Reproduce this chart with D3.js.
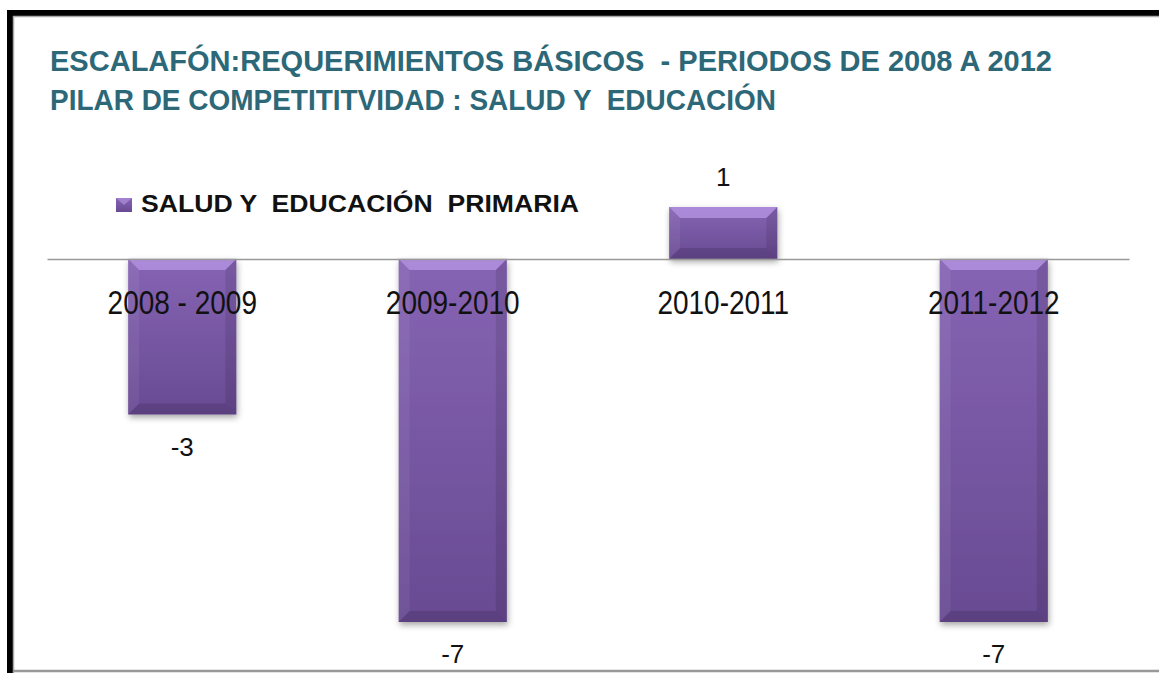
<!DOCTYPE html>
<html><head><meta charset="utf-8">
<script src="https://cdn.jsdelivr.net/npm/d3@7"></script>
<style>html,body{margin:0;padding:0;background:#fff;}svg{display:block;} text{white-space:pre;}</style>
</head><body>
<svg id="c" width="1159" height="673"></svg>
<script>
const categories = ["2008 - 2009", "2009-2010", "2010-2011", "2011-2012"];
const values = [-3, -7, 1, -7];
const seriesName = "SALUD Y  EDUCACIÓN  PRIMARIA";
const titleLines = ["ESCALAFÓN:REQUERIMIENTOS BÁSICOS  - PERIODOS DE 2008 A 2012",
                    "PILAR DE COMPETITITVIDAD : SALUD Y  EDUCACIÓN"];

const W = 1159, H = 673;
const FONT = "Liberation Sans, Arial, sans-serif";
const svg = d3.select("#c");
const defs = svg.append("defs");

const grad = defs.append("linearGradient").attr("id","barGrad").attr("x1",0).attr("y1",0).attr("x2",0).attr("y2",1);
grad.append("stop").attr("offset","0%").attr("stop-color","#8664b4");
grad.append("stop").attr("offset","100%").attr("stop-color","#684a92");

const sh = defs.append("filter").attr("id","shadow").attr("x","-20%").attr("y","-20%").attr("width","140%").attr("height","140%");
sh.append("feDropShadow").attr("dx",1).attr("dy",3).attr("stdDeviation",3).attr("flood-color","#000").attr("flood-opacity",0.35);

// frame
svg.append("line").attr("x1",10).attr("x2",10).attr("y1",10).attr("y2",H).attr("stroke","#000").attr("stroke-width",6);
svg.append("line").attr("x1",7).attr("x2",W).attr("y1",13).attr("y2",13).attr("stroke","#000").attr("stroke-width",6);
svg.append("line").attr("x1",13.5).attr("x2",13.5).attr("y1",16).attr("y2",H).attr("stroke","#aaa").attr("stroke-width",1.5);
svg.append("line").attr("x1",13).attr("x2",W).attr("y1",16.5).attr("y2",16.5).attr("stroke","#aaa").attr("stroke-width",1.5);
svg.append("line").attr("x1",13).attr("x2",W).attr("y1",671).attr("y2",671).attr("stroke","#999").attr("stroke-width",2.5);

// title
const tl = [[50, 71, 1002], [50, 110, 726]];
titleLines.forEach((t,i)=>{
  svg.append("text").attr("x",tl[i][0]).attr("y",tl[i][1])
    .attr("textLength",tl[i][2]).attr("lengthAdjust","spacingAndGlyphs")
    .attr("font-family",FONT).attr("font-weight","bold")
    .attr("font-size",29).attr("fill","#2c6878").text(t);
});

// legend
const lg = svg.append("g");
lg.append("rect").attr("x",116).attr("y",198).attr("width",16).attr("height",14).attr("fill","url(#barGrad)");
lg.append("path").attr("d","M116,198 L132,198 L124,205 Z").attr("fill","#a98ad6").attr("opacity",0.8);
lg.append("text").attr("x",141).attr("y",212).attr("textLength",438).attr("lengthAdjust","spacingAndGlyphs")
  .attr("font-family",FONT).attr("font-weight","bold")
  .attr("font-size",24).attr("fill","#111").text(seriesName);

// scales
const x = d3.scaleBand().domain(categories).range([47,1129]).paddingInner(0.6).paddingOuter(0.3);
const y = d3.scaleLinear().domain([-7,1]).range([622,207]);
const data = categories.map((c,i)=>({c, v: values[i]}));

// bars
const bw = x.bandwidth(), b = 11;
const bars = svg.append("g").selectAll("g").data(data).join("g");
bars.append("rect")
  .attr("x",d=>x(d.c)).attr("y",d=>Math.min(y(d.v),y(0)))
  .attr("width",bw).attr("height",d=>Math.abs(y(d.v)-y(0)))
  .attr("fill","url(#barGrad)").attr("filter","url(#shadow)");
bars.each(function(d){
  const g = d3.select(this);
  const x0 = x(d.c), x1 = x0+bw, t = Math.min(y(d.v),y(0)), bt = Math.max(y(d.v),y(0));
  const bb = Math.min(b, (bt-t)/2);
  g.append("path").attr("d",`M${x0},${t}L${x1},${t}L${x1-bb},${t+bb}L${x0+bb},${t+bb}Z`).attr("fill","#b493e2").attr("opacity",0.8);
  g.append("path").attr("d",`M${x0},${t}L${x0+bb},${t+bb}L${x0+bb},${bt-bb}L${x0},${bt}Z`).attr("fill","#fff").attr("opacity",0.06);
  g.append("path").attr("d",`M${x1},${t}L${x1-bb},${t+bb}L${x1-bb},${bt-bb}L${x1},${bt}Z`).attr("fill","#000").attr("opacity",0.10);
  g.append("path").attr("d",`M${x0},${bt}L${x0+bb},${bt-bb}L${x1-bb},${bt-bb}L${x1},${bt}Z`).attr("fill","#000").attr("opacity",0.12);
});

// axis
const ax = svg.append("g").attr("transform",`translate(0,${y(0)})`)
  .call(d3.axisBottom(x).tickSize(0).tickSizeOuter(0));
ax.select(".domain").attr("stroke","#999").attr("stroke-width",1.5);
ax.selectAll(".tick text")
  .attr("y",0).attr("dy","0.36em")
  .attr("transform","translate(0,43) scale(1,1.18)")
  .attr("font-family",FONT).attr("font-size",28).attr("fill","#111");

// value labels
svg.append("g").selectAll("text").data(data).join("text")
  .attr("x",d=>x(d.c)+bw/2)
  .attr("y",d=>d.v<0 ? y(d.v)+41 : y(d.v)-21)
  .attr("text-anchor","middle")
  .attr("font-family",FONT).attr("font-size",26).attr("fill","#111")
  .text(d=>d.v);
</script>
</body></html>
